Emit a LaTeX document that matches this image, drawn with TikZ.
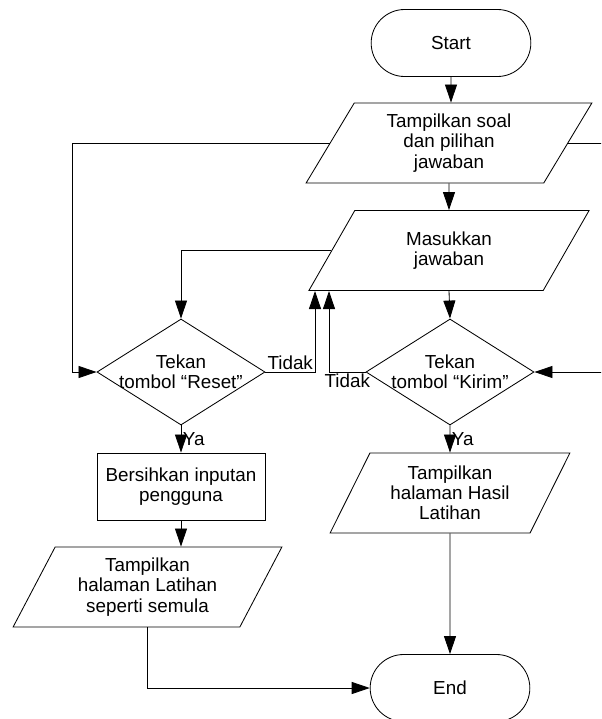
\documentclass[tikz,border=0pt]{standalone}
\usepackage{fontspec}
\setmainfont{Liberation Sans}
\usetikzlibrary{arrows.meta,shapes.geometric,shapes.misc}

\begin{document}
\begin{tikzpicture}[x=0.025cm, y=-0.025cm, line width=0.6pt,
  every node/.style={font=\fontsize{13.4}{14.4}\selectfont},
  ujung/.style={draw, rounded rectangle, minimum width=4.225cm, minimum height=1.675cm},
  io/.style={draw, trapezium, trapezium left angle=62, trapezium right angle=118,
    trapezium stretches=true, minimum height=2cm, inner sep=1pt, align=center},
  proses/.style={draw, rectangle, minimum width=4.2cm, minimum height=1.675cm, align=center},
  pilih/.style={draw, diamond, aspect=1.58, inner xsep=-9pt, inner ysep=0pt,
    minimum width=4.2cm, minimum height=2.65cm, align=center},
  panah/.style={-{Triangle[length=0.45cm,width=0.3cm]}}]
\useasboundingbox (0,0) rectangle (601,719);
\clip (0,0) rectangle (601,719);
\node [ujung] (mulai) at (451,43) {Start};
\node [io, minimum width=7.15cm] (soal) at (449,143) {Tampilkan soal\\dan pilihan\\jawaban};
\node [io, minimum width=7.05cm] (jawab) at (449,250.5) {Masukkan\\jawaban};
\node [pilih] (reset) at (181,372) {Tekan\\tombol “Reset”};
\node [pilih] (kirim) at (450,372) {Tekan\\tombol “Kirim”};
\node [proses] (bersih) at (181,486.5) {Bersihkan inputan\\pengguna};
\node [io, minimum width=6.725cm] (latihan) at (147.5,587) {Tampilkan\\halaman Latihan\\seperti semula};
\node [io, minimum width=6cm] (hasil) at (450,493) {Tampilkan\\halaman Hasil\\Latihan};
\node [ujung] (selesai) at (450,688) {End};
\coordinate (tidak1) at (315,291);
\coordinate (tidak2) at (329,291);
\draw[panah] (mulai) -- (mulai |- soal.north);
\draw[panah] (soal) -- (soal |- jawab.north);
\draw[panah] (jawab.south) -- (kirim.north);
\draw[panah] (soal.west) -| ([xshift=-0.6cm]reset.west) -- (reset.west);
\draw[panah] (soal.east) -| ([xshift=2cm]kirim.east) -- (kirim.east);
\draw[panah] (jawab.west) -| (reset.north);
\draw[panah] (reset.east) -| (tidak1) node[pos=0.25, above, inner sep=1pt] {Tidak};
\draw[panah] (kirim.west) -| (tidak2) node[pos=0.25, below, inner sep=1pt] {Tidak};
\draw[panah] (reset.south) -- (bersih.north) node[midway, right, inner sep=1pt] {Ya};
\draw[panah] (kirim.south) -- (hasil.north) node[midway, right, inner sep=1pt] {Ya};
\draw[panah] (bersih.south) -- (bersih.south |- latihan.north);
\draw[panah] (latihan.south) |- (selesai.west);
\draw[panah] (hasil.south) -- (selesai.north);
\end{tikzpicture}
\end{document}
